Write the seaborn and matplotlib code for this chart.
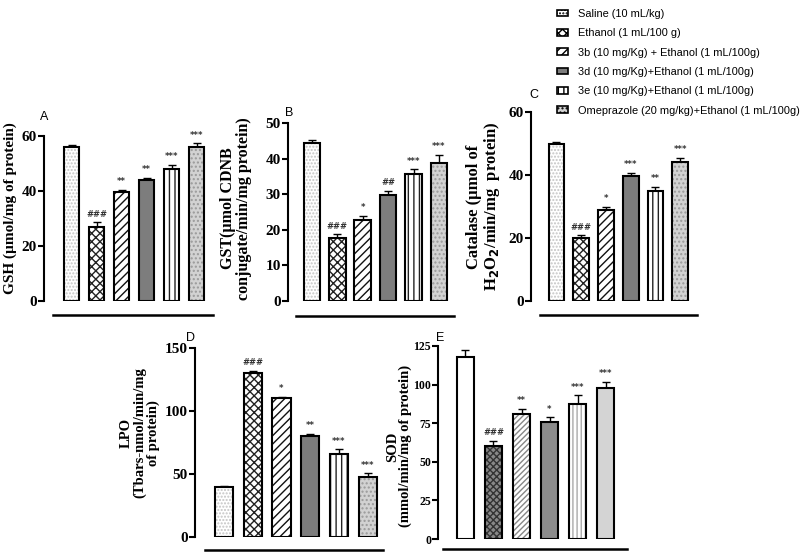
import matplotlib
matplotlib.use("Agg")
import matplotlib.pyplot as plt
from matplotlib.lines import Line2D
from matplotlib.patches import Patch
import numpy as np
import pandas as pd
import seaborn as sns

# Data:
groups = ["Saline (10 mL/kg)", "Ethanol (1 mL/100 g)",
          "3b (10 mg/Kg) + Ethanol (1 mL/100g)", "3d (10 mg/Kg)+Ethanol (1 mL/100g)",
          "3e (10 mg/Kg)+Ethanol (1 mL/100g)", "Omeprazole (20 mg/kg)+Ethanol (1 mL/100g)"]

gsh_mean = [56, 27, 39.5, 44, 48, 56]
gsh_err = [0.6, 1.6, 1.0, 0.8, 1.6, 1.3]
gsh_sig = ["", "###", "**", "**", "***", "***"]

gst_mean = [44.5, 17.6, 22.8, 29.8, 35.8, 38.8]
gst_err = [0.8, 1.2, 1.1, 1.2, 1.2, 2.2]
gst_sig = ["", "###", "*", "##", "***", "***"]

cat_mean = [50, 20, 29, 39.8, 34.8, 44]
cat_err = [0.5, 0.8, 0.8, 0.8, 1.5, 1.5]
cat_sig = ["", "###", "*", "***", "**", "***"]

lpo_mean = [40, 130, 110, 80, 66, 48]
lpo_err = [0.6, 1.6, 1.0, 1.8, 3.5, 2.5]
lpo_sig = ["", "###", "*", "**", "***", "***"]

sod_mean = [118, 60.5, 81, 75.5, 87.5, 98]
sod_err = [4.5, 3, 3.5, 3.2, 5.5, 3.5]
sod_sig = ["", "###", "**", "*", "***", "***"]

# Bar styles (face, hatch, hatch colour)
styles_main = [("white", ".....", "#c4c4c4"),
               ("white", "xxxx", "#222222"),
               ("white", "////", "#111111"),
               ("#7d7d7d", "", "#7d7d7d"),
               ("white", "|||", "#222222"),
               ("#d2d2d2", "....", "#9a9a9a")]
styles_sod = [("white", "", "white"),
              ("#888888", "xxxxx", "#333333"),
              ("white", "//////", "#888888"),
              ("#8c8c8c", "", "#8c8c8c"),
              ("white", "||||", "#aaaaaa"),
              ("#d4d4d4", "", "#d4d4d4")]

serif = "Liberation Serif"
sans = ["Liberation Sans", "DejaVu Sans"]

W, H = 800, 554
fig = plt.figure(figsize=(8, 5.54), dpi=100)
fig.set_facecolor("white")


def px_rect(left, right, bottom, top):
    return [left / W, 1 - bottom / H, (right - left) / W, (bottom - top) / H]


panels = [
    dict(mean=gsh_mean, err=gsh_err, sig=gsh_sig, letter="A",
         rect=(44, 215, 301, 136), xlim=(-1.1, 5.74), ylim=60, yticks=[0, 20, 40, 60],
         ylabel="GSH (µmol/mg of protein)", lsize=11, lcoords=(-0.16, 0.56),
         tsize=11, width=0.6, styles=styles_main, letter_xy=(40, 117),
         line=(53, 213, 315)),
    dict(mean=gst_mean, err=gst_err, sig=gst_sig, letter="B",
         rect=(288, 460, 301, 123), xlim=(-0.94, 5.83), ylim=50, yticks=[0, 10, 20, 30, 40, 50],
         ylabel="GST(µmol CDNB\nconjugate/min/mg protein)", lsize=11.5, lcoords=(-0.21, 0.52),
         tsize=11, width=0.65, styles=styles_main, letter_xy=(285, 113),
         line=(296, 454, 316)),
    dict(mean=cat_mean, err=cat_err, sig=cat_sig, letter="C",
         rect=(531, 700, 301, 112), xlim=(-1.03, 5.8), ylim=60, yticks=[0, 20, 40, 60],
         ylabel="Catalase (µmol of\nH$_\\mathbf{2}$O$_\\mathbf{2}$/min/mg  protein)", lsize=12,
         lcoords=(-0.17, 0.5),
         tsize=11, width=0.63, styles=styles_main, letter_xy=(529, 95),
         line=(540, 697, 315)),
    dict(mean=lpo_mean, err=lpo_err, sig=lpo_sig, letter="D",
         rect=(195, 385, 537, 348), xlim=(-1.01, 5.6), ylim=150, yticks=[0, 50, 100, 150],
         ylabel="LPO\n(Tbars-nmol/min/mg\nof protein)", lsize=10.5, lcoords=(-0.184, 0.55),
         tsize=11, width=0.64, styles=styles_main, letter_xy=(186, 338),
         line=(205, 383, 550)),
    dict(mean=sod_mean, err=sod_err, sig=sod_sig, letter="E",
         rect=(438, 628, 539, 346), xlim=(-0.98, 5.8), ylim=125, yticks=[0, 25, 50, 75, 100, 125],
         ylabel="SOD\n(mmol/min/mg of protein)", lsize=10.5, lcoords=(-0.135, 0.48),
         tsize=8.5, width=0.62, styles=styles_sod, letter_xy=(436, 338),
         line=(443, 627, 549)),
]

for p in panels:
    ax = fig.add_axes(px_rect(*p["rect"]))
    df = pd.DataFrame({"group": groups, "value": p["mean"]})
    x = np.arange(len(groups))

    # hatched fill layer
    sns.barplot(data=df, x="group", y="value", ax=ax, width=p["width"],
                errorbar=None, color="white", linewidth=0)
    for bar, (face, hatch, hcol) in zip(ax.patches, p["styles"]):
        bar.set_facecolor(face)
        bar.set_hatch(hatch)
        bar.set_edgecolor(hcol)
        bar.set_linewidth(0)

    # outline layer
    sns.barplot(data=df, x="group", y="value", ax=ax, width=p["width"],
                errorbar=None, fill=False, color="black", linewidth=1.5)

    ax.errorbar(x, p["mean"], yerr=[np.zeros(len(x)), p["err"]], fmt="none",
                ecolor="black", elinewidth=1, capsize=3, capthick=1, zorder=0.5)

    for xi, m, e, s in zip(x, p["mean"], p["err"], p["sig"]):
        ax.text(xi, m + e + p["ylim"] * 0.02, s, ha="center", va="bottom",
                fontsize=6, color="#333333", fontweight="bold")

    ax.set_xlim(*p["xlim"])
    ax.set_ylim(0, p["ylim"])
    ax.set_yticks(p["yticks"])
    ax.set_xticks([])
    ax.set_xlabel("")
    ax.set_ylabel(p["ylabel"], fontsize=p["lsize"], fontfamily=serif, fontweight="bold",
                  linespacing=1.0)
    ax.yaxis.set_label_coords(*p["lcoords"])
    ax.patch.set_alpha(0)
    for side in ["top", "right", "bottom"]:
        ax.spines[side].set_visible(False)
    ax.spines["left"].set_linewidth(1.5)
    ax.tick_params(axis="y", length=4, width=1.5, pad=1)
    for lab in ax.get_yticklabels():
        lab.set_fontfamily(serif)
        lab.set_fontweight("bold")
        lab.set_fontsize(p["tsize"])

    fig.text(p["letter_xy"][0] / W, 1 - p["letter_xy"][1] / H, p["letter"],
             fontsize=9, family=sans, ha="left", va="center")

    x0, x1, yl = p["line"]
    fig.add_artist(Line2D([x0 / W, x1 / W], [1 - yl / H, 1 - yl / H],
                          color="black", linewidth=1.8, transform=fig.transFigure))

# Legend:
handles = [Patch(facecolor=f, hatch=h, edgecolor="black", linewidth=1.2)
           for f, h, _ in styles_main]
fig.legend(handles, groups, loc="upper left", bbox_to_anchor=(547 / W, 1 + 1 / H),
           frameon=False, prop={"family": sans, "size": 7.9},
           handlelength=1.0, handleheight=0.6, labelspacing=0.85, handletextpad=0.95)

fig.savefig("out.png", dpi=100)
